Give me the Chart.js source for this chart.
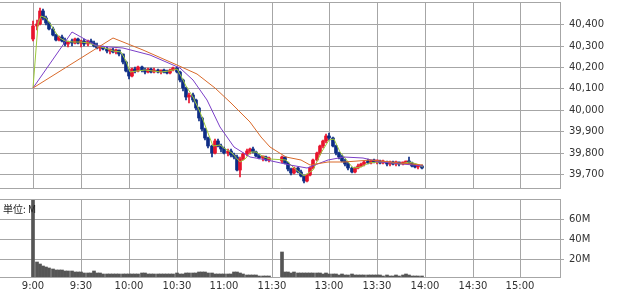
<!DOCTYPE html>
<html>
<head>
<meta charset="utf-8">
<script src="https://cdn.jsdelivr.net/npm/chart.js@4.4.1/dist/chart.umd.min.js"></script>
<style>
  html, body { margin: 0; padding: 0; background: #fff; }
  #wrap { position: relative; width: 620px; height: 292px; overflow: hidden; }
  #priceCanvas { position: absolute; left: 0; top: 0; }
  #volCanvas { position: absolute; left: 0; top: 190px; }
  #unit { position: absolute; left: 3px; top: 201px; font: 10px "Noto Sans CJK JP", sans-serif; color: #222; }
</style>
</head>
<body>
<div id="wrap">
  <canvas id="priceCanvas" width="620" height="190"></canvas>
  <canvas id="volCanvas" width="620" height="102"></canvas>
  <div id="unit">単位: M</div>
</div>
<script>
// 2-minute bars, morning session + afternoon session
const times = [
  '9:00','9:02','9:04','9:06','9:08','9:10','9:12','9:14','9:16','9:18',
  '9:20','9:22','9:24','9:26','9:28','9:30','9:32','9:34','9:36','9:38',
  '9:40','9:42','9:44','9:46','9:48','9:50','9:52','9:54','9:56','9:58',
  '10:00','10:02','10:04','10:06','10:08','10:10','10:12','10:14','10:16','10:18',
  '10:20','10:22','10:24','10:26','10:28','10:30','10:32','10:34','10:36','10:38',
  '10:40','10:42','10:44','10:46','10:48','10:50','10:52','10:54','10:56','10:58',
  '11:00','11:02','11:04','11:06','11:08','11:10','11:12','11:14','11:16','11:18',
  '11:20','11:22','11:24','11:26','11:28',
  '12:30','12:32','12:34','12:36','12:38','12:40','12:42','12:44','12:46','12:48',
  '12:50','12:52','12:54','12:56','12:58','13:00','13:02','13:04','13:06','13:08',
  '13:10','13:12','13:14','13:16','13:18','13:20','13:22','13:24','13:26','13:28',
  '13:30','13:32','13:34','13:36','13:38','13:40','13:42','13:44','13:46','13:48',
  '13:50','13:52','13:54','13:56','13:58'
];

const opens = [
  40330,40390,40400,40460,40430,40405,40378,40350,40328,40340,
  40320,40305,40315,40310,40330,40310,40320,40305,40320,40310,
  40300,40290,40295,40285,40275,40280,40270,40278,40258,40222,
  40180,40160,40190,40180,40200,40185,40175,40190,40178,40188,
  40175,40180,40178,40172,40185,40195,40178,40140,40100,40060,
  40070,40045,40010,39960,39910,39870,39830,39800,39855,39830,
  39815,39800,39810,39790,39778,39720,39772,39795,39810,39815,
  39805,39785,39775,39780,39765,
  39760,39778,39750,39722,39705,39728,39712,39690,39668,39695,
  39730,39765,39800,39830,39855,39880,39868,39830,39798,39780,
  39762,39748,39728,39710,39730,39740,39745,39758,39752,39762,
  39755,39760,39752,39758,39745,39755,39748,39752,39745,39752,
  39755,39750,39740,39735,39738
];
const highs = [
  40415,40420,40475,40470,40440,40410,40385,40355,40345,40350,
  40335,40320,40330,40335,40335,40325,40330,40325,40330,40320,
  40310,40300,40300,40295,40285,40290,40285,40280,40262,40228,
  40190,40195,40200,40205,40205,40195,40195,40195,40195,40192,
  40185,40190,40188,40190,40200,40200,40182,40145,40105,40080,
  40078,40050,40015,39965,39915,39875,39835,39865,39862,39840,
  39825,39815,39815,39800,39790,39778,39800,39815,39822,39825,
  39810,39795,39785,39785,39778,
  39785,39782,39755,39730,39735,39735,39720,39695,39700,39735,
  39770,39805,39835,39860,39885,39892,39872,39835,39805,39790,
  39770,39755,39732,39735,39745,39752,39762,39770,39768,39772,
  39768,39768,39765,39762,39760,39762,39760,39758,39758,39760,
  39782,39755,39748,39742,39742
];
const lows = [
  40320,40370,40395,40420,40395,40370,40345,40320,40320,40315,
  40300,40295,40300,40305,40305,40295,40300,40300,40305,40295,
  40285,40275,40280,40265,40260,40265,40260,40250,40215,40175,
  40145,40155,40170,40175,40175,40165,40170,40170,40172,40170,
  40165,40170,40168,40168,40180,40170,40130,40090,40045,40030,
  40035,40000,39950,39900,39860,39820,39780,39795,39825,39805,
  39795,39785,39780,39770,39715,39688,39765,39785,39795,39800,
  39780,39770,39762,39760,39755,
  39750,39745,39715,39695,39700,39705,39685,39660,39662,39690,
  39725,39760,39790,39820,39845,39860,39825,39790,39770,39755,
  39740,39720,39703,39706,39722,39732,39738,39748,39745,39750,
  39745,39748,39745,39740,39740,39742,39740,39738,39742,39745,
  39745,39735,39728,39722,39725
];
const closes = [
  40390,40400,40460,40430,40405,40378,40350,40328,40340,40320,
  40305,40315,40310,40330,40310,40320,40305,40320,40310,40300,
  40290,40295,40285,40275,40280,40270,40278,40258,40222,40180,
  40160,40190,40180,40200,40185,40175,40190,40178,40188,40175,
  40180,40178,40172,40185,40195,40178,40140,40100,40060,40070,
  40045,40010,39960,39910,39870,39830,39800,39855,39830,39815,
  39800,39810,39790,39778,39720,39772,39795,39810,39815,39805,
  39785,39775,39780,39765,39770,
  39778,39750,39722,39705,39728,39712,39690,39668,39695,39730,
  39765,39800,39830,39855,39880,39868,39830,39798,39780,39762,
  39748,39728,39710,39730,39740,39745,39758,39752,39762,39755,
  39760,39752,39758,39745,39755,39748,39752,39745,39752,39755,
  39750,39740,39735,39738,39730
];
// volume in millions
const volumes = [
  80,17,15,13,12,11,10,9.5,9,9,
  8.5,8,8,7.5,7,7,6.5,6,6.5,8,
  6,6,5.5,5.5,5,5.5,5,5,5,5.5,
  5,5,5.5,5,6,6.5,5.5,5,5,5.5,
  5,5,5.5,5,5.5,6,5.5,5,6,6.5,
  6,6.5,7,7.5,7,6.5,6,5.5,5,5.5,
  5,5,5.5,7,7.5,6,5,4.5,4.5,4,
  4,3.5,3.5,3,3,
  27,7,7.5,6.5,7,6.5,6,6.5,6,6,
  6.5,6,6,5.5,6,5.5,5,5,4.5,5,
  4.5,4.5,5,4,4.5,4,4,4.5,4,4,
  4,4,3.5,4,3.5,3.5,4,3.5,4.5,5,
  4,3.5,3.5,3.5,3.5
];

// moving averages
const fastTimes = ['9:00','9:03','9:05','9:08','9:11','9:14','9:17','9:20','9:25','9:30','9:35','9:40','9:45','9:50','9:55','9:58',
  '10:01','10:05','10:10','10:15','10:20','10:25','10:30','10:33','10:36','10:40','10:45','10:50','10:53','10:57',
  '11:00','11:05','11:10','11:13','11:17','11:20','11:25','11:29',
  '12:33','12:38','12:44','12:50','12:55','13:00','13:03','13:07','13:10','13:15','13:20','13:25','13:30','13:35','13:40','13:45','13:50','13:55','13:59'];
const fastValues = [40100,40400,40440,40430,40395,40360,40335,40322,40315,40315,40312,40300,40288,40275,40268,40230,
  40178,40182,40188,40182,40178,40180,40190,40160,40110,40062,39990,39890,39830,39838,
  39820,39800,39755,39772,39805,39805,39780,39770,
  39768,39730,39692,39720,39800,39860,39862,39805,39775,39728,39732,39752,39758,39755,39752,39748,39755,39748,39735];

const midTimes = ['9:00','9:24','9:40','9:56','10:13','10:32','10:40','10:49','10:57','11:06','11:16','11:27',
  '12:35','12:46','12:59','13:09','13:21','13:32','13:40','13:59'];
const midValues = [40100,40363,40300,40288,40255,40195,40139,40045,39919,39826,39779,39765,
  39742,39728,39765,39779,39775,39756,39751,39737];

const slowTimes = ['9:00','9:50','10:09','10:30','10:43','10:54','11:04','11:16','11:23','11:29',
  '12:33','12:42','12:48','12:59','13:09','13:26','13:45','13:59'];
const slowValues = [40100,40335,40279,40209,40168,40101,40031,39943,39875,39826,
  39779,39765,39742,39756,39756,39765,39751,39742];

const xTickLabels = ['9:00','9:30','10:00','10:30','11:00','11:30','13:00','13:30','14:00','14:30','15:00'];
const priceTicks = [39700,39800,39900,40000,40100,40200,40300,40400];
const volTicks = [20,40,60];

const gridColor = '#a6a6a6';
const upColor = '#e8142c';
const downColor = '#0d2c85';

// minutes after 9:00, lunch break squeezed to a short gap
function toAxis(t) {
  const [h, m] = t.split(':').map(Number);
  const v = (h - 9) * 60 + m;
  return v >= 210 ? v - 54 : v;
}

Chart.defaults.font.family = 'DejaVu Sans';
Chart.defaults.font.size = 10;
Chart.defaults.color = '#333';

const topBorder = {
  id: 'topBorder',
  afterDraw(chart) {
    const { ctx, chartArea: a } = chart;
    ctx.save();
    ctx.strokeStyle = gridColor;
    ctx.lineWidth = 1;
    ctx.beginPath();
    ctx.moveTo(a.left, Math.round(a.top) + 0.5);
    ctx.lineTo(a.right, Math.round(a.top) + 0.5);
    ctx.stroke();
    ctx.restore();
  }
};

// no automatic label padding, the areas are placed by hand
function noPad(s) {
  s.paddingLeft = 0; s.paddingRight = 0;
  s.paddingTop = 0; s.paddingBottom = 0;
}

const candleColors = times.map((t, i) => closes[i] >= opens[i] ? upColor : downColor);

const xScale = (showLabels) => ({
  type: 'linear',
  min: -21,
  max: 331,
  offset: false,
  alignToPixels: true,
  afterBuildTicks: s => { s.ticks = xTickLabels.map(t => ({ value: toAxis(t) })); },
  afterFit: s => { s.height = showLabels ? 15 : 0; noPad(s); },
  ticks: {
    display: showLabels,
    padding: 3,
    maxRotation: 0,
    autoSkip: false,
    callback: (v, i) => xTickLabels[i]
  },
  grid: { color: gridColor, drawTicks: false, offset: false },
  border: { display: true, color: gridColor }
});

const yScale = (min, max, ticks, fmt) => ({
  position: 'right',
  min: min,
  max: max,
  alignToPixels: true,
  afterBuildTicks: s => { s.ticks = ticks.map(v => ({ value: v })); },
  afterFit: s => { s.width = 60; noPad(s); },
  ticks: { padding: 5, callback: fmt },
  grid: { color: gridColor, tickLength: 4 },
  border: { display: true, color: gridColor }
});

const lineSet = (tArr, vArr, color) => ({
  type: 'line',
  data: tArr.map((t, i) => ({ x: toAxis(t), y: vArr[i] })),
  borderColor: color,
  borderWidth: 1,
  pointRadius: 0,
  fill: false,
  tension: 0,
  order: 0
});

new Chart(document.getElementById('priceCanvas'), {
  type: 'bar',
  data: {
    datasets: [
      lineSet(slowTimes, slowValues, '#d96a2b'),
      lineSet(midTimes, midValues, '#7b3fc8'),
      lineSet(fastTimes, fastValues, '#9cc93a'),
      {
        data: times.map((t, i) => ({ x: toAxis(t), y: [opens[i], closes[i]] })),
        backgroundColor: candleColors,
        barThickness: 3,
        minBarLength: 2,
        grouped: false,
        order: 1
      },
      {
        data: times.map((t, i) => ({ x: toAxis(t), y: [lows[i], highs[i]] })),
        backgroundColor: candleColors,
        barThickness: 1,
        grouped: false,
        order: 2
      }
    ]
  },
  options: {
    responsive: false,
    animation: false,
    devicePixelRatio: 1,
    layout: { padding: { top: 2, bottom: 2, left: 0, right: 0 } },
    plugins: { legend: { display: false }, tooltip: { enabled: false } },
    scales: {
      x: xScale(false),
      y: yScale(39635, 40503, priceTicks, v => v.toLocaleString('en-US'))
    }
  },
  plugins: [topBorder]
});

new Chart(document.getElementById('volCanvas'), {
  type: 'bar',
  data: {
    datasets: [{
      data: times.map((t, i) => ({ x: toAxis(t), y: volumes[i] })),
      backgroundColor: '#555555',
      barPercentage: 1,
      categoryPercentage: 1,
      grouped: false
    }]
  },
  options: {
    responsive: false,
    animation: false,
    devicePixelRatio: 1,
    layout: { padding: { top: 9, bottom: 0, left: 0, right: 0 } },
    plugins: { legend: { display: false }, tooltip: { enabled: false } },
    scales: {
      x: xScale(true),
      y: yScale(2, 80, volTicks, v => v + 'M')
    }
  },
  plugins: [topBorder]
});
</script>
</body>
</html>
